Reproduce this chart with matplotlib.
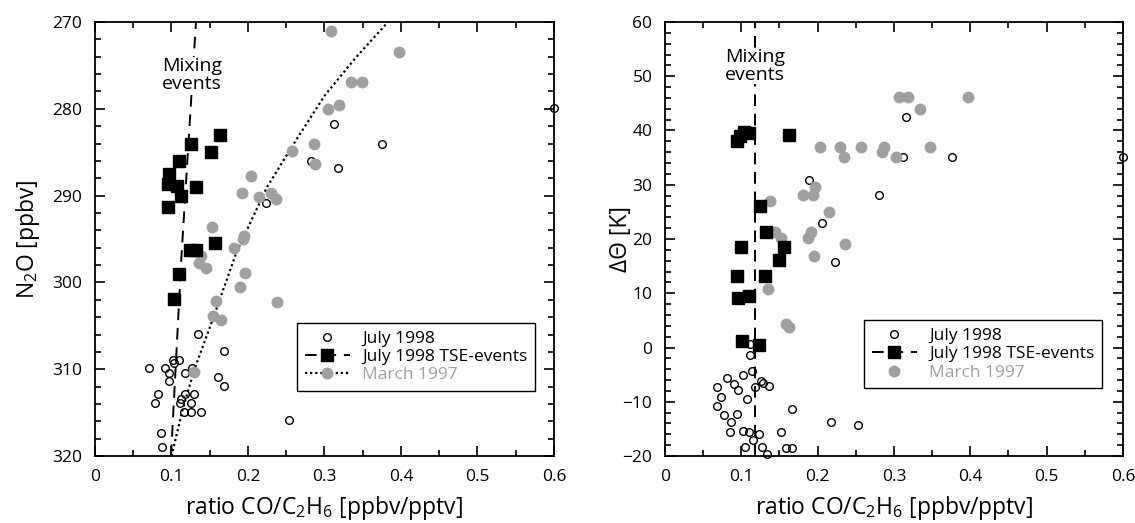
import numpy as np
import matplotlib.pyplot as plt
from matplotlib.ticker import MultipleLocator

plt.rcParams['font.family'] = ['Open Sans', 'DejaVu Sans']
plt.rcParams['mathtext.default'] = 'regular'

GREY = '#a0a0a0'

# ---- left panel: N2O vs CO/C2H6 ratio ----
jul_x = [0.600, 0.313, 0.3755, 0.282, 0.317, 0.224, 0.135, 0.168, 0.102, 0.110,
         0.103, 0.070, 0.092, 0.0963, 0.118, 0.127, 0.097, 0.161, 0.169, 0.083,
         0.118, 0.129, 0.078, 0.113, 0.126, 0.111, 0.116, 0.1255, 0.1386, 0.254,
         0.086, 0.088]
jul_n2o = [279.9, 281.8, 284.0, 286.0, 286.8, 290.9, 305.9, 307.9, 308.9, 308.9,
           309.3, 309.9, 309.9, 310.4, 310.4, 309.9, 311.4, 310.9, 311.9, 312.9,
           312.9, 312.9, 313.9, 313.4, 313.9, 313.9, 314.9, 314.9, 314.9, 315.9,
           317.4, 318.9]

tse_x = [0.164, 0.126, 0.151, 0.110, 0.0967, 0.0958, 0.107, 0.132, 0.113, 0.0954,
         0.157, 0.124, 0.132, 0.110, 0.103]
tse_n2o = [283.0, 284.0, 285.0, 286.0, 287.5, 288.7, 288.9, 289.0, 290.0, 291.3,
           295.5, 296.3, 296.3, 299.0, 301.9]

mar_x = [0.308, 0.397, 0.335, 0.349, 0.304, 0.319, 0.286, 0.258, 0.287, 0.2035,
         0.192, 0.215, 0.230, 0.236, 0.1525, 0.195, 0.193, 0.182, 0.139, 0.136,
         0.145, 0.196, 0.190, 0.1585, 0.238, 0.1547, 0.165, 0.130]
mar_n2o = [271.0, 273.5, 276.9, 276.9, 280.0, 279.6, 284.0, 284.9, 286.4, 287.7,
           289.7, 290.2, 289.7, 290.4, 293.6, 294.6, 295.0, 296.0, 296.9, 297.8,
           298.3, 298.9, 300.5, 302.1, 302.3, 303.9, 304.3, 310.3]

mix_x = [0.0994, 0.113, 0.132]
mix_n2o = [320, 297, 270]

fit_x = [0.100, 0.115, 0.130, 0.155, 0.185, 0.225, 0.260, 0.300, 0.340, 0.383]
fit_n2o = [320, 314.5, 310, 304, 296.5, 289, 284, 278.5, 274.2, 270]

# ---- right panel: delta theta vs CO/C2H6 ratio ----
jul_x2 = [0.316, 0.312, 0.3757, 0.600, 0.189, 0.281, 0.206, 0.2224, 0.1114, 0.1114,
          0.1144, 0.1027, 0.0813, 0.0909, 0.0961, 0.1254, 0.128, 0.1367, 0.118, 0.068,
          0.073, 0.108, 0.068, 0.167, 0.0773, 0.0948, 0.0869, 0.217, 0.2534, 0.0852,
          0.1018, 0.110, 0.1236, 0.1516, 0.1157, 0.1049, 0.1275, 0.134, 0.1586, 0.167]
jul_dth = [42.5, 35.1, 35.1, 35.1, 30.9, 28.1, 22.9, 15.7, 0.6, -1.4,
           -4.4, -5.1, -5.7, -6.8, -7.8, -6.1, -6.5, -7.0, -7.3, -7.3,
           -9.1, -9.4, -10.8, -11.3, -12.4, -12.3, -13.8, -13.8, -14.3, -15.5,
           -15.4, -15.5, -16.0, -15.6, -17.1, -18.3, -18.3, -19.6, -18.6, -18.5]

tse_x2 = [0.0948, 0.098, 0.104, 0.110, 0.163, 0.1245, 0.132, 0.0996, 0.156, 0.150,
          0.0948, 0.131, 0.0953, 0.110, 0.1013, 0.1236]
tse_dth = [38.0, 39.0, 39.8, 39.5, 39.1, 26.1, 21.3, 18.6, 18.5, 16.2,
           13.1, 13.1, 9.2, 9.5, 1.2, 0.4]

mar_x2 = [0.3067, 0.319, 0.397, 0.334, 0.203, 0.2298, 0.257, 0.287, 0.347, 0.235,
          0.284, 0.303, 0.196, 0.181, 0.1935, 0.1376, 0.2145, 0.144, 0.152, 0.191,
          0.188, 0.236, 0.195, 0.1354, 0.158, 0.162]
mar_dth = [46.1, 46.1, 46.1, 44.0, 37.0, 37.0, 37.0, 37.0, 37.0, 35.1,
           36.0, 35.1, 29.6, 28.1, 28.1, 27.0, 24.9, 21.3, 20.1, 21.3,
           20.1, 19.1, 16.8, 10.8, 4.4, 3.8]

mix_x2 = [0.118, 0.118]
mix_dth = [-20, 60]

xlabel = r'ratio CO/C$_2$H$_6$ [ppbv/pptv]'

fig = plt.figure(figsize=(11.35, 5.23), dpi=100)
ax1 = fig.add_axes([0.0837, 0.128, 0.4044, 0.830])
ax2 = fig.add_axes([0.5859, 0.128, 0.4035, 0.830])


def style(ax):
    ax.set_xlim(0, 0.6)
    ax.xaxis.set_major_locator(MultipleLocator(0.1))
    ax.xaxis.set_minor_locator(MultipleLocator(0.05))
    ax.yaxis.set_major_locator(MultipleLocator(10))
    ax.yaxis.set_minor_locator(MultipleLocator(2))
    ax.tick_params(which='both', direction='in', top=True, right=True,
                   labelsize=12.5, width=1.2)
    ax.tick_params(which='major', length=7, pad=9)
    ax.tick_params(which='minor', length=4)
    ax.xaxis.set_major_formatter(plt.FuncFormatter(lambda v, p: '0' if v == 0 else '%g' % v))
    for s in ax.spines.values():
        s.set_linewidth(1.3)
    ax.set_xlabel(xlabel, fontsize=16.5, labelpad=7)


# left
l_jul, = ax1.plot(jul_x, jul_n2o, 'o', ms=5.5, mfc='none', mec='black', mew=1.0,
                  label='July 1998', clip_on=False, zorder=3)
ax1.plot(mix_x, mix_n2o, color='black', ls=(0, (6, 4)), lw=1.4, zorder=2)
ax1.plot(tse_x, tse_n2o, 's', ms=8, color='black', zorder=4)
ax1.plot(fit_x, fit_n2o, color='black', ls=(0, (1, 1.3)), lw=1.6, zorder=2)
ax1.plot(mar_x, mar_n2o, 'o', ms=7.5, color=GREY, mec=GREY, zorder=3)
ax1.text(0.0876, 276.1, 'Mixing\nevents', fontsize=14, ha='left', va='center',
         linespacing=1.0, bbox=dict(fc='white', ec='none', pad=0), zorder=5)
style(ax1)
ax1.set_ylim(320, 270)
ax1.set_ylabel(r'N$_2$O [ppbv]', fontsize=16.5)
ax1.yaxis.set_label_coords(-0.115, 0.5)

h_tse, = ax1.plot([], [], color='black', ls=(0, (6, 4)), lw=1.4, marker='s', ms=8)
h_mar, = ax1.plot([], [], color='black', ls=(0, (1, 1.3)), lw=1.6, marker='o', ms=7.5,
                  mfc=GREY, mec=GREY)
leg = ax1.legend([l_jul, h_tse, h_mar], ['July 1998', 'July 1998 TSE-events', 'March 1997'],
                 loc='upper left', bbox_to_anchor=(0.44, 0.3065), fontsize=12.5,
                 fancybox=False, edgecolor='black', framealpha=1, borderpad=0.45,
                 labelspacing=0.12, handlelength=2.6, handletextpad=0.7, borderaxespad=0)
leg.get_frame().set_linewidth(1.0)
leg.get_texts()[2].set_color(GREY)

# right
r_jul, = ax2.plot(jul_x2, jul_dth, 'o', ms=5.5, mfc='none', mec='black', mew=1.0,
                  clip_on=False, zorder=3)
ax2.plot(mix_x2, mix_dth, color='black', ls=(0, (6, 4)), lw=1.4, zorder=2)
ax2.plot(tse_x2, tse_dth, 's', ms=8, color='black', zorder=4)
r_mar, = ax2.plot(mar_x2, mar_dth, 'o', ms=7.5, color=GREY, zorder=3)
ax2.text(0.0786, 51.9, 'Mixing\nevents', fontsize=14, ha='left', va='center',
         linespacing=1.0, bbox=dict(fc='white', ec='none', pad=0), zorder=5)
style(ax2)
ax2.set_ylim(-20, 60)
ax2.set_ylabel(r'ΔΘ [K]', fontsize=16.5)
ax2.yaxis.set_label_coords(-0.07, 0.5)

leg2 = ax2.legend([r_jul, h_tse, r_mar], ['July 1998', 'July 1998 TSE-events', 'March 1997'],
                  loc='upper left', bbox_to_anchor=(0.4345, 0.313), fontsize=12.5,
                  fancybox=False, edgecolor='black', framealpha=1, borderpad=0.45,
                  labelspacing=0.12, handlelength=2.6, handletextpad=0.7, borderaxespad=0)
leg2.get_frame().set_linewidth(1.0)
leg2.get_texts()[2].set_color(GREY)

fig.savefig('out.png', dpi=100)
